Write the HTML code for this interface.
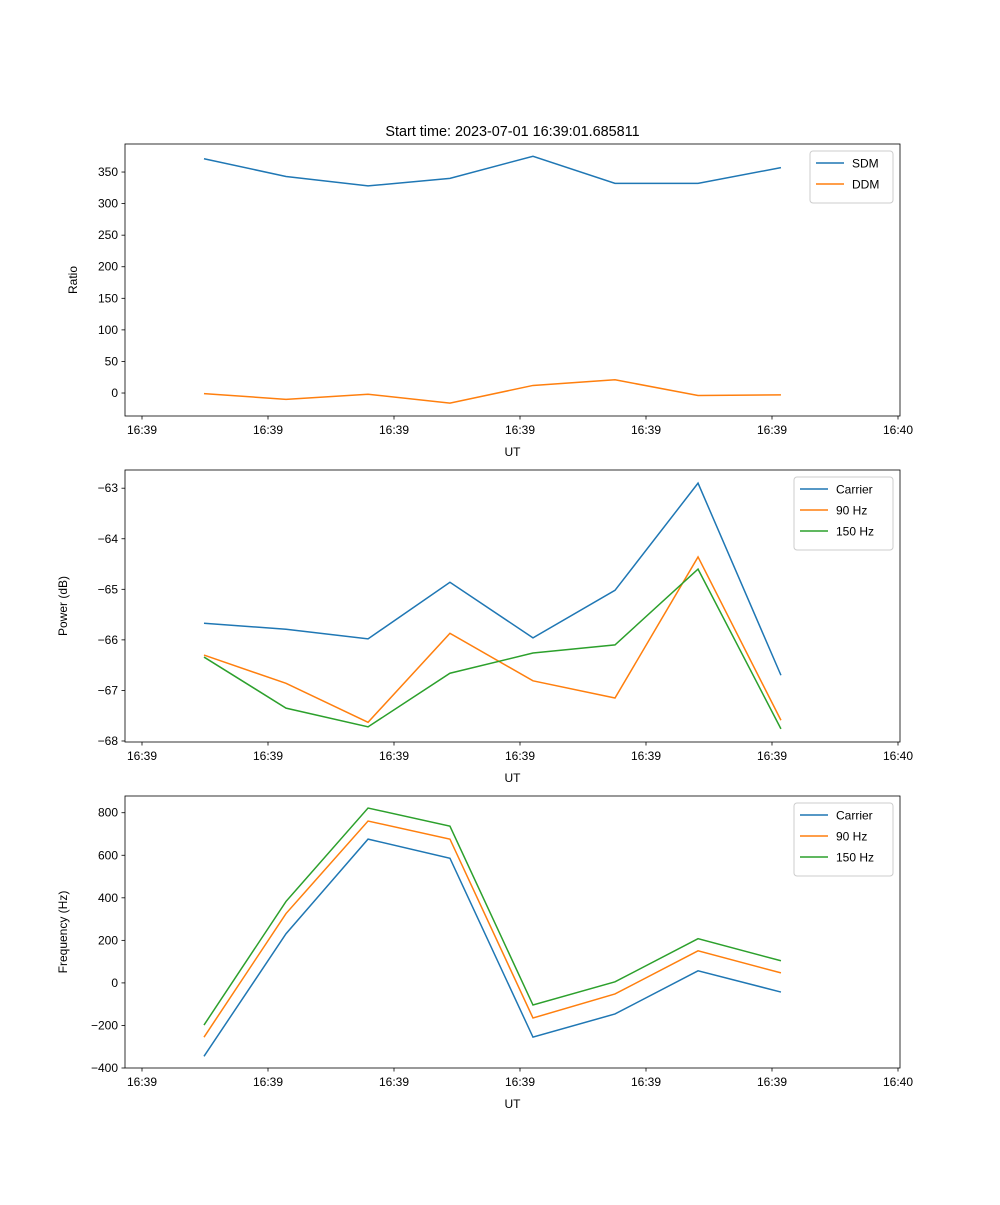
<!DOCTYPE html>
<html><head><meta charset="utf-8"><style>
body{margin:0;background:#fff}
svg{font-family:"Liberation Sans","DejaVu Sans",sans-serif}
</style></head><body>
<svg id="fig" width="1000" height="1200"></svg>
<script>
const xSec=[4.92,11.43,17.94,24.44,31.03,37.54,44.13,50.71];
const xTickLabels=["16:39","16:39","16:39","16:39","16:39","16:39","16:40"];
const sdm=[371,343,328,340,375,332,332,357];
const ddm=[-1,-10,-2,-16,12,21,-4,-3];
const pwrCarrier=[-65.67,-65.79,-65.98,-64.86,-65.96,-65.02,-62.90,-66.70];
const pwr90=[-66.30,-66.86,-67.63,-65.87,-66.81,-67.15,-64.36,-67.59];
const pwr150=[-66.34,-67.35,-67.72,-66.66,-66.26,-66.10,-64.60,-67.76];
const frqCarrier=[-345,231,676,586,-255,-146,57,-43];
const frq90=[-255,326,761,676,-165,-52,151,47];
const frq150=[-198,383,822,737,-104,5,208,104];
const ticksRatio=[0,50,100,150,200,250,300,350];
const ticksPower=[-68,-67,-66,-65,-64,-63];
const ticksFreq=[-400,-200,0,200,400,600,800];

const NS="http://www.w3.org/2000/svg";
const svg=document.getElementById('fig');
function mk(tag,at,parent){const e=document.createElementNS(NS,tag);for(const k in at)e.setAttribute(k,at[k]);(parent||svg).appendChild(e);return e;}
const L=125,R=900,xmin=-17/12.6,xmax=60+2/12.6;
const sx=v=>L+(v-xmin)/(xmax-xmin)*(R-L);
const C=['#1f77b4','#ff7f0e','#2ca02c'];

function panel(top,bot,ymin,ymax,yticks,ylabel,series,names,legW,id,title){
  const g=mk('g',{});
  
  
  const sy=v=>bot-(v-ymin)/(ymax-ymin)*(bot-top);
  series.forEach((s,i)=>{
    const p=mk('polyline',{points:s.map((v,j)=>sx(xSec[j])+','+sy(v)).join(' '),fill:'none',stroke:C[i],'stroke-width':1.5},g);
    
    
  });
  mk('rect',{x:L,y:top,width:R-L,height:bot-top,fill:'none',stroke:'#000','stroke-width':0.8},g);
  yticks.forEach(t=>{const y=sy(t);mk('line',{x1:L-3.5,x2:L,y1:y,y2:y,stroke:'#000','stroke-width':0.8},g);
    const tx=mk('text',{x:L-7,y:y+4,'font-size':12,'text-anchor':'end'},g);tx.textContent=String(t).replace('-','\u2212');});
  xTickLabels.forEach((lab,i)=>{const x=sx(i*10);mk('line',{x1:x,x2:x,y1:bot,y2:bot+3.5,stroke:'#000','stroke-width':0.8},g);
    const tx=mk('text',{x:x,y:bot+18,'font-size':12,'text-anchor':'middle'},g);tx.textContent=lab;});
  const xl=mk('text',{x:(L+R)/2,y:bot+40,'font-size':12,'text-anchor':'middle'},g);xl.textContent='UT';
  
  const yx=L-(ylabel.length>8?58:48);
  const yl=mk('text',{x:yx,y:(top+bot)/2,'font-size':12,'text-anchor':'middle',transform:`rotate(-90 ${yx} ${(top+bot)/2})`},g);yl.textContent=ylabel;
  
  if(title){const t=mk('text',{x:(L+R)/2,y:top-8,'font-size':14.4,'text-anchor':'middle'},g);t.textContent=title;
    }
  const lg=mk('g',{},g);
  const lx=R-7-legW,ly=top+7,h=names.length*21+10;
  mk('rect',{x:lx,y:ly,width:legW,height:h,fill:'#fff',stroke:'#ccc',rx:3},lg);
  names.forEach((n,i)=>{const yy=ly+12+i*21;
    mk('line',{x1:lx+6,x2:lx+34,y1:yy,y2:yy,stroke:C[i],'stroke-width':1.5},lg);
    const t=mk('text',{x:lx+42,y:yy+4.5,'font-size':12},lg);t.textContent=n;
    });
}
panel(144,416,-36.4,394.4,ticksRatio,'Ratio',[sdm,ddm],['SDM','DDM'],83,'ratio','Start time: 2023-07-01 16:39:01.685811');
panel(470,742,-68.02,-62.64,ticksPower,'Power (dB)',[pwrCarrier,pwr90,pwr150],['Carrier','90 Hz','150 Hz'],99,'power');
panel(796,1068,-400,878.6,ticksFreq,'Frequency (Hz)',[frqCarrier,frq90,frq150],['Carrier','90 Hz','150 Hz'],99,'frequency');
</script>
</body></html>
